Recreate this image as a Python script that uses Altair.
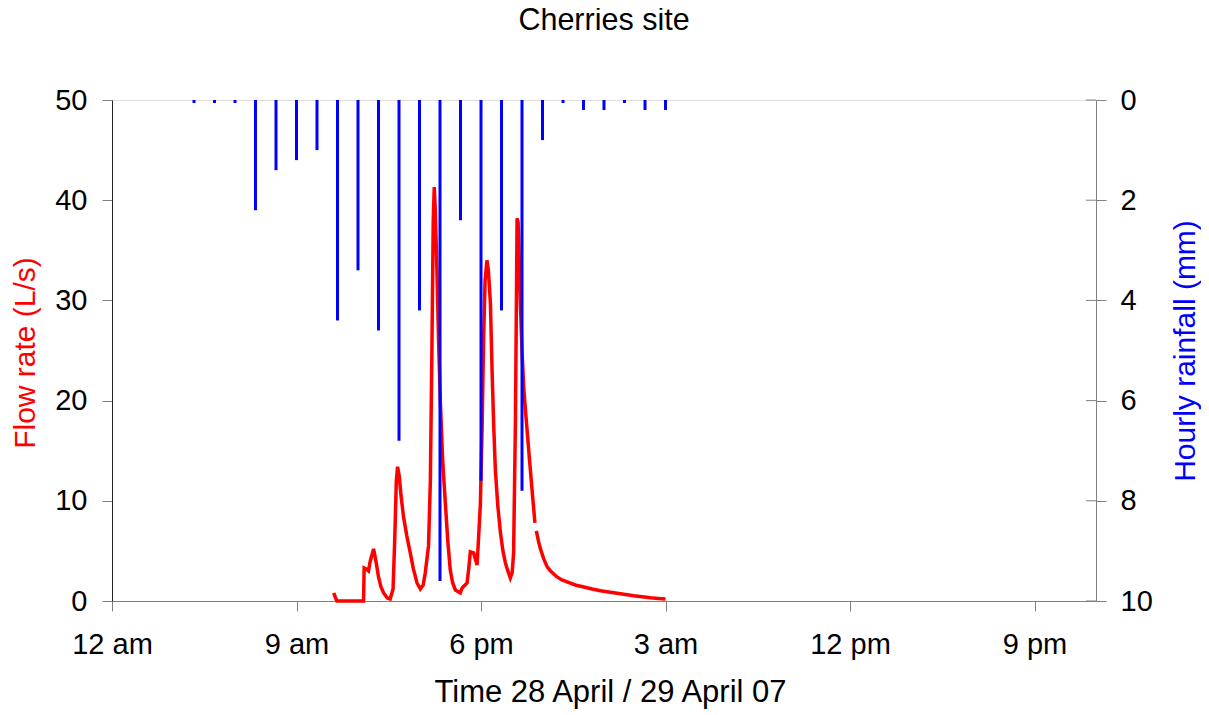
import json
import altair as alt
import pandas as pd

FONT = "Liberation Sans"

# Hourly rainfall (mm), bars at hour marks from 4 am 28 April
rain_hours = [4, 5, 6, 7, 8, 9, 10, 11, 12, 13, 14, 15, 16, 17, 18, 19, 20, 21, 22, 23, 24, 25, 26, 27]
rain_mm = [0.06, 0.06, 0.06, 2.2, 1.4, 1.2, 1.0, 4.4, 3.4, 4.6, 6.8, 4.2, 9.6, 2.4, 7.6, 4.2, 7.8, 0.8,
           0.06, 0.2, 0.2, 0.06, 0.2, 0.2]

# Flow rate (L/s), hours since midnight 28 April
flow_hours = [10.81, 10.97, 12.27, 12.30, 12.40, 12.51, 12.60, 12.76, 12.89, 13.00, 13.12, 13.25, 13.43,
              13.57, 13.71, 13.79, 13.87, 13.93, 14.01, 14.10, 14.22, 14.38, 14.55, 14.70, 14.88, 15.04,
              15.18, 15.28, 15.44, 15.53, 15.61, 15.67, 15.72, 15.77, 15.85, 15.93, 16.02, 16.13, 16.26,
              16.38, 16.50, 16.62, 16.75, 16.99, 17.08, 17.32, 17.40, 17.48, 17.64, 17.81, 17.97, 18.05,
              18.13, 18.20, 18.29, 18.36, 18.46, 18.54, 18.62, 18.70, 18.82, 18.95, 19.07, 19.19, 19.31,
              19.43, 19.52, 19.59, 19.68, 19.76, 19.81, 19.84, 19.92, 20.00, 20.08, 20.17, 20.25, 20.37,
              20.49, 20.63,
              20.70, 20.80, 20.90, 21.06, 21.23, 21.39, 21.55, 21.71, 21.95, 22.20, 22.60, 23.01, 23.42,
              23.83, 24.23, 24.64, 25.05, 25.45, 25.86, 26.27, 26.64, 27.00]
flow_ls = [0.8, 0.0, 0.0, 3.3, 3.2, 3.0, 4.0, 5.2, 3.8, 2.4, 1.4, 0.8, 0.3,
           0.2, 1.2, 6.0, 12.0, 13.4, 12.5, 10.5, 8.4, 6.5, 4.8, 3.2, 1.8, 1.2,
           1.6, 2.8, 5.5, 12.0, 26.0, 38.0, 41.3, 39.0, 33.0, 26.0, 19.8, 14.0, 9.8,
           6.0, 3.1, 1.8, 1.1, 0.8, 1.3, 1.8, 3.2, 4.9, 4.8, 3.6, 9.7, 17.0,
           26.4, 32.0, 34.0, 33.0, 29.7, 23.0, 17.5, 13.1, 9.5, 6.8, 5.0, 3.8, 3.0,
           2.3, 2.8, 4.8, 18.0, 38.2, 37.8, 36.0, 29.7, 25.0, 21.4, 19.0, 17.0, 14.0,
           11.1, 7.8,
           7.0, 6.0, 5.2, 4.2, 3.4, 3.0, 2.7, 2.4, 2.1, 1.9, 1.6, 1.4, 1.2,
           1.03, 0.9, 0.77, 0.65, 0.53, 0.43, 0.33, 0.26, 0.2]
# the recorded line has one small break after 8:38 pm
flow_seg = [1 if h <= 20.63 else 2 for h in flow_hours]

x_ticks = [0, 9, 18, 27, 36, 45]
x_labels = ["12 am", "9 am", "6 pm", "3 am", "12 pm", "9 pm"]
flow_ticks = [0, 10, 20, 30, 40, 50]
rain_ticks = [0, 2, 4, 6, 8, 10]
title_text = ["Cherries site"]

W, H = 984, 501

flow_df = pd.DataFrame({"hour": flow_hours, "flow": flow_ls, "seg": flow_seg})
rain_df = pd.DataFrame({"hour": rain_hours, "rain": rain_mm})
tick_df = pd.DataFrame({"rain": rain_ticks})
title_df = pd.DataFrame({"t": title_text})

x_scale = alt.Scale(domain=[0, 48], nice=False, zero=False)
x_axis = alt.Axis(
    values=x_ticks,
    labelExpr=json.dumps(x_labels) + "[round(datum.value / 9)]",
    labelFlush=False,
    grid=False, tickSize=10, tickColor="#808080", domainColor="#808080",
    labelFontSize=29, labelFont=FONT, labelColor="black", labelPadding=19,
    title="Time 28 April / 29 April 07", titleFontSize=31, titleFont=FONT,
    titleFontWeight="normal", titleColor="black", titleBaseline="middle",
    titleX=W / 2 + 6, titleY=91, titleAnchor="middle", titleAlign="center",
)

flow_axis = alt.Axis(
    values=flow_ticks, orient="left", grid=False, tickSize=10, tickColor="#808080",
    domainColor="#222222", labelFontSize=29, labelFont=FONT, labelColor="black",
    labelPadding=15,
    title="Flow rate (L/s)", titleColor="#ff0000", titleFontSize=30, titleFont=FONT,
    titleFontWeight="normal", titleAngle=270, titleBaseline="middle", titleAlign="center",
    titleX=-87, titleY=H / 2 + 2, titleAnchor="middle",
)

rain_axis = alt.Axis(
    values=rain_ticks, orient="right", grid=False, tickSize=10, tickColor="#808080",
    domainColor="#808080", labelFontSize=29, labelFont=FONT, labelColor="black",
    labelPadding=14,
    title="Hourly rainfall (mm)", titleColor="#0000ff", titleFontSize=30, titleFont=FONT,
    titleFontWeight="normal", titleAngle=270, titleBaseline="middle", titleAlign="center",
    titleX=89, titleY=H / 2, titleAnchor="middle",
)

flow_line = alt.Chart(flow_df).mark_line(color="#ff0000", strokeWidth=3.5).encode(
    x=alt.X("hour:Q", scale=x_scale, axis=x_axis),
    y=alt.Y("flow:Q", scale=alt.Scale(domain=[0, 50], nice=False), axis=flow_axis),
    detail="seg:N",
    order="hour:Q",
)

rain_scale = alt.Scale(domain=[0, 10], reverse=True, nice=False)

rain_bars = alt.Chart(rain_df).mark_rule(color="#0000ff", strokeWidth=3).encode(
    x=alt.X("hour:Q", scale=x_scale, axis=x_axis),
    y=alt.Y("rain:Q", scale=rain_scale, axis=rain_axis),
    y2=alt.datum(0),
)

inner_ticks = alt.Chart(tick_df).mark_rule(color="#808080", strokeWidth=1).encode(
    x=alt.value(W - 10),
    x2=alt.value(W),
    y=alt.Y("rain:Q", scale=rain_scale, axis=rain_axis),
)

title_mark = alt.Chart(title_df).mark_text(
    font=FONT, fontSize=30.5, color="black", align="center", baseline="middle"
).encode(
    text="t:N",
    x=alt.value(W / 2),
    y=alt.value(-79),
)

rain_layer = alt.layer(rain_bars, inner_ticks, title_mark)

chart = alt.layer(flow_line, rain_layer).resolve_scale(y="independent").properties(
    width=W,
    height=H,
    autosize=alt.AutoSizeParams(type="none"),
    padding={"left": 104, "top": 92, "right": 105, "bottom": 110},
).configure_view(stroke=None).configure(background="white")

chart.save("out.html", embed_options={"renderer": "svg", "actions": False})
